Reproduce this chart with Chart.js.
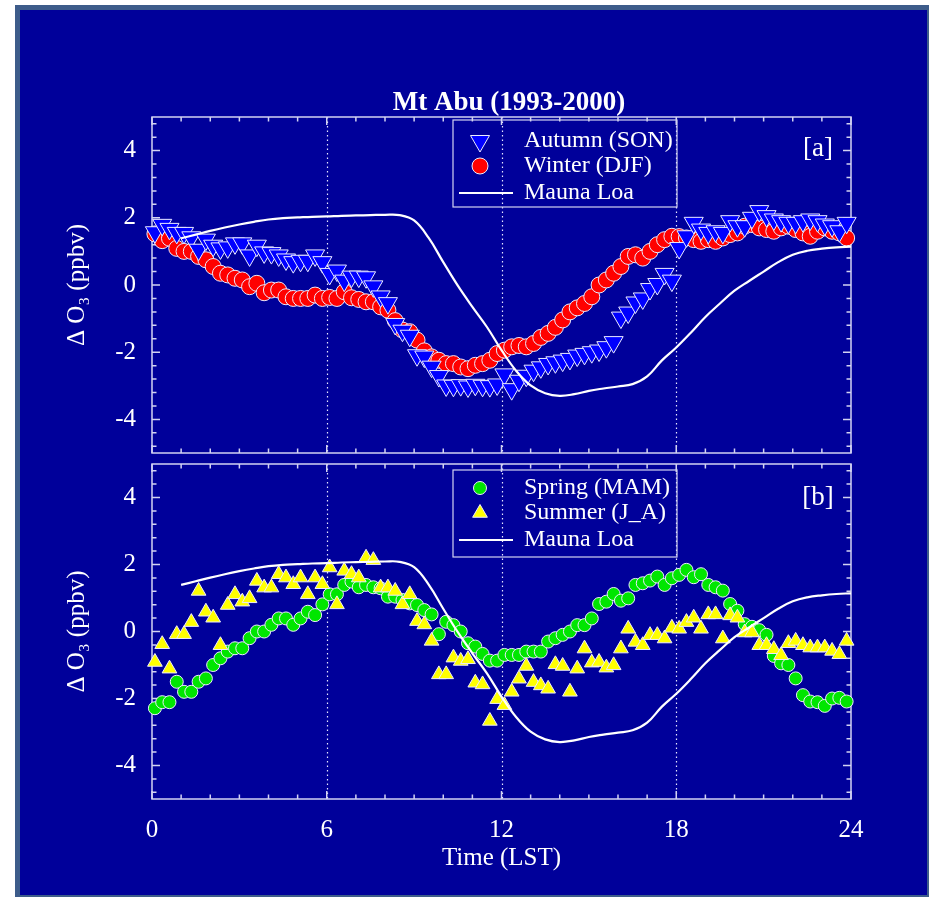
<!DOCTYPE html>
<html>
<head>
<meta charset="utf-8">
<script src="https://cdn.jsdelivr.net/npm/chart.js@4.4.0/dist/chart.umd.min.js"></script>
<style>
  html, body { margin: 0; padding: 0; width: 929px; height: 897px; overflow: hidden; background: #ffffff; }
  #frame { position: absolute; left: 15px; top: 5px; width: 907px; height: 885px;
           background: #00009a; border: 5px solid #3d5c8a; }
  canvas { position: absolute; left: 0; top: 0; }
</style>
</head>
<body>
<div id="frame"></div>
<canvas id="panelA" width="929" height="897"></canvas>
<canvas id="panelB" width="929" height="897"></canvas>
<script>
// 15-minute time grid (hours LST)
var hours = [];
for (var k = 0; k < 96; k++) hours.push(+(0.1 + 0.25 * k).toFixed(2));

// Mauna Loa reference curve, half-hourly from 01 LST
var mlHours = [];
for (var m = 0; m < 47; m++) mlHours.push(1 + 0.5 * m);

var autumn = [
  1.57, 1.79, 1.67, 1.55, 1.55, 1.42, 1.05, 1.35, 1.17, 1.09, 1.12, 1.24,
  1.24, 0.88, 1.17, 0.97, 0.95, 0.88, 0.76, 0.68, 0.72, 0.72, 0.88, 0.68,
  0.33, 0.43, 0.13, 0.25, 0.25, 0.23, -0.04, -0.34, -0.54, -1.16, -1.36, -1.51,
  -2.09, -2.13, -2.43, -2.71, -2.99, -3.0, -2.98, -3.02, -2.97, -3.0, -3.01, -2.96,
  -2.66, -3.1, -2.85, -2.7, -2.55, -2.45, -2.35, -2.3, -2.25, -2.2, -2.1, -2.05,
  -2.0, -1.95, -1.85, -1.7, -0.97, -0.82, -0.52, -0.4, -0.12, 0.03, 0.33, 0.13,
  1.1, 1.45, 1.85, 1.65, 1.55, 1.6, 1.55, 1.9, 1.75, 1.75, 2.0, 2.2,
  2.05, 1.95, 1.9, 1.85, 1.85, 1.9, 1.95, 1.9, 1.8, 1.75, 1.6, 1.85
];
var winter = [
  1.52, 1.32, 1.39, 1.09, 1.0, 1.0, 0.85, 0.75, 0.55, 0.35, 0.30, 0.20,
  0.15, -0.05, 0.05, -0.23, -0.15, -0.15, -0.35, -0.40, -0.40, -0.40, -0.30, -0.40,
  -0.37, -0.40, -0.20, -0.38, -0.43, -0.50, -0.50, -0.65, -0.75, -1.06, -1.34, -1.39,
  -1.64, -1.96, -2.14, -2.24, -2.34, -2.34, -2.44, -2.49, -2.39, -2.34, -2.24, -2.04,
  -1.94, -1.84, -1.80, -1.84, -1.74, -1.56, -1.44, -1.26, -1.04, -0.80, -0.68, -0.55,
  -0.35, 0.0, 0.15, 0.35, 0.55, 0.85, 0.90, 0.80, 1.0, 1.2, 1.35, 1.45,
  1.44, 1.40, 1.35, 1.30, 1.35, 1.30, 1.40, 1.50, 1.55, 1.75, 1.80, 1.70,
  1.65, 1.60, 1.70, 1.75, 1.65, 1.55, 1.45, 1.60, 1.70, 1.60, 1.55, 1.40
];
var spring = [
  -2.29, -2.11, -2.11, -1.5, -1.8, -1.8, -1.5, -1.4, -1.0, -0.8, -0.6, -0.5,
  -0.5, -0.2, 0.0, 0.0, 0.2, 0.39, 0.39, 0.2, 0.39, 0.59, 0.49, 0.81,
  1.11, 1.11, 1.39, 1.49, 1.32, 1.39, 1.32, 1.29, 1.04, 1.04, 0.94, 0.84,
  0.79, 0.64, 0.51, -0.08, 0.29, 0.19, 0.0, -0.35, -0.45, -0.67, -0.87, -0.87,
  -0.7, -0.7, -0.7, -0.6, -0.6, -0.6, -0.3, -0.2, -0.1, 0.0, 0.19, 0.19,
  0.39, 0.82, 0.89, 1.12, 0.92, 0.99, 1.39, 1.44, 1.52, 1.64, 1.39, 1.59,
  1.69, 1.84, 1.62, 1.71, 1.39, 1.32, 1.22, 0.82, 0.62, 0.22, 0.14, 0.04,
  -0.1, -0.73, -0.95, -1.0, -1.4, -1.9, -2.09, -2.11, -2.22, -2.0, -1.98, -2.09
];
var summer = [
  -0.91, -0.38, -1.11, -0.08, -0.08, 0.28, 1.21, 0.59, 0.41, -0.41, 0.79, 1.11,
  0.89, 0.99, 1.51, 1.31, 1.31, 1.71, 1.61, 1.41, 1.61, 1.11, 1.61, 1.41,
  1.91, 0.81, 1.81, 1.71, 1.61, 2.2, 2.13, 1.31, 1.31, 1.21, 0.81, 1.11,
  0.31, 0.21, -0.28, -1.28, -1.28, -0.78, -0.88, -0.83, -1.53, -1.58, -2.67, -2.02,
  -2.2, -1.8, -1.41, -1.03, -1.51, -1.61, -1.71, -0.98, -1.03, -1.8, -1.11, -0.51,
  -0.93, -0.91, -1.08, -1.01, -0.51, 0.08, -0.31, -0.41, -0.11, -0.11, -0.21, 0.11,
  0.08, 0.28, 0.41, 0.08, 0.51, 0.51, -0.21, 0.48, 0.41, -0.03, -0.03, -0.41,
  -0.41, -0.53, -0.71, -0.35, -0.28, -0.41, -0.48, -0.48, -0.48, -0.58, -0.68, -0.28
];
var maunaLoa = [
  1.39, 1.50, 1.61, 1.71, 1.80, 1.88, 1.95, 1.99, 2.01, 2.03, 2.04, 2.06,
  2.07, 2.08, 2.09, 2.08, 1.92, 1.40, 0.68, -0.02, -0.65, -1.25, -1.94, -2.55,
  -2.99, -3.22, -3.30, -3.25, -3.15, -3.08, -3.02, -2.95, -2.72, -2.25, -1.86, -1.42,
  -0.95, -0.55, -0.17, 0.12, 0.40, 0.68, 0.90, 1.02, 1.08, 1.12, 1.14
];

var xTicks = [0, 6, 12, 18, 24];
var yTicks = [-4, -2, 0, 2, 4];
var gridHours = [6, 12, 18];

var SERIF = "'Liberation Serif', 'Times New Roman', serif";
var AXIS = '#d2d2f2';
var MARK_EDGE = '#ececff';

function pts(xs, ys) {
    return ys.map(function(v, i) { return {x: xs[i], y: v}; });
}

// frame, inward ticks, dotted verticals, legend box, title & panel tag
var panelDecor = {
    id: 'panelDecor',
    beforeDatasetsDraw: function(chart, args, opts) {
        var ctx = chart.ctx, a = chart.chartArea;
        var x = chart.scales.x, y = chart.scales.y;
        ctx.save();
        ctx.strokeStyle = '#e6e6ff';
        ctx.lineWidth = 1.2;
        ctx.setLineDash([1.5, 3]);
        gridHours.forEach(function(h) {
            var px = Math.round(x.getPixelForValue(h)) + 0.5;
            ctx.beginPath(); ctx.moveTo(px, a.top); ctx.lineTo(px, a.bottom); ctx.stroke();
        });
        ctx.setLineDash([]);
        ctx.strokeStyle = AXIS;
        ctx.lineWidth = 1.5;
        ctx.strokeRect(a.left, a.top, a.width, a.height);
        ctx.beginPath();
        for (var h = 0; h <= 24; h++) {
            var px = x.getPixelForValue(h), len = (h % 6 === 0) ? 8 : 4.5;
            ctx.moveTo(px, a.bottom); ctx.lineTo(px, a.bottom - len);
            ctx.moveTo(px, a.top); ctx.lineTo(px, a.top + len);
        }
        for (var i = -12; i <= 12; i++) {
            var py = y.getPixelForValue(i * 0.4), ln = (i % 5 === 0) ? 8 : 4.5;
            ctx.moveTo(a.left, py); ctx.lineTo(a.left + ln, py);
            ctx.moveTo(a.right, py); ctx.lineTo(a.right - ln, py);
        }
        ctx.stroke();
        ctx.restore();
    },
    afterDatasetsDraw: function(chart, args, opts) {
        var ctx = chart.ctx, b = opts.box;
        ctx.save();
        ctx.strokeStyle = AXIS;
        ctx.lineWidth = 1.2;
        ctx.strokeRect(b[0], b[1], b[2] - b[0], b[3] - b[1]);
        ctx.font = '24px ' + SERIF;
        ctx.textBaseline = 'middle';
        ctx.textAlign = 'left';
        opts.rows.forEach(function(r) {
            var ds = chart.data.datasets[r.ds];
            if (r.line) {
                ctx.strokeStyle = ds.borderColor;
                ctx.lineWidth = ds.borderWidth;
                ctx.beginPath(); ctx.moveTo(459, r.y); ctx.lineTo(513, r.y); ctx.stroke();
            } else {
                ctx.fillStyle = ds.backgroundColor;
                ctx.strokeStyle = ds.borderColor;
                ctx.lineWidth = ds.borderWidth;
                Chart.helpers.drawPoint(ctx, {
                    pointStyle: ds.pointStyle, rotation: ds.rotation || 0,
                    radius: ds.pointRadius, borderWidth: ds.borderWidth
                }, 480, r.y);
            }
            ctx.fillStyle = '#ffffff';
            ctx.fillText(r.label, 524, r.y);
        });
        ctx.font = '27px ' + SERIF;
        ctx.textAlign = 'center';
        ctx.fillText(opts.tag, 818, opts.tagY);
        if (opts.title) {
            ctx.font = 'bold 27px ' + SERIF;
            ctx.fillText(opts.title, 509, 103);
        }
        ctx.restore();
    }
};

function yAxis() {
    return {
        min: -5, max: 5,
        afterBuildTicks: function(s) { s.ticks = yTicks.map(function(v) { return {value: v}; }); },
        afterFit: function(s) { s.width = 152; },
        border: {display: false},
        grid: {display: false, drawTicks: false},
        ticks: {color: '#ffffff', font: {family: SERIF, size: 25}, padding: 16},
        title: {display: true, text: 'Δ O₃ (ppbv)', color: '#ffffff',
                font: {family: SERIF, size: 25}, padding: {top: 62, bottom: 0}}
    };
}

function mlDataset() {
    return {
        label: 'Mauna Loa', data: pts(mlHours, maunaLoa), showLine: true,
        borderColor: '#ffffff', backgroundColor: '#ffffff', borderWidth: 2.2,
        pointRadius: 0, tension: 0.4, clip: false
    };
}

function markerSet(label, ys, style, rot, radius, fill) {
    return {
        label: label, data: pts(hours, ys), showLine: false,
        pointStyle: style, rotation: rot, pointRadius: radius,
        backgroundColor: fill, borderColor: MARK_EDGE, borderWidth: 1, clip: false
    };
}

Chart.defaults.font.family = SERIF;

new Chart(document.getElementById('panelA'), {
    type: 'scatter',
    data: {
        datasets: [
            mlDataset(),
            markerSet('Autumn (SON)', autumn, 'triangle', 180, 11, '#0000ff'),
            markerSet('Winter (DJF)', winter, 'circle', 0, 8, '#ff0000')
        ]
    },
    options: {
        responsive: false, animation: false, events: [], devicePixelRatio: 1,
        layout: {padding: {left: 0, right: 78, top: 117, bottom: 444}},
        scales: {
            x: {type: 'linear', min: 0, max: 24, display: false},
            y: yAxis()
        },
        plugins: {
            legend: {display: false}, tooltip: {enabled: false},
            panelDecor: {
                box: [453, 120, 677, 207],
                rows: [
                    {ds: 1, label: 'Autumn (SON)', y: 141},
                    {ds: 2, label: 'Winter (DJF)', y: 166},
                    {ds: 0, label: 'Mauna Loa', y: 193, line: true}
                ],
                tag: '[a]', tagY: 149, title: 'Mt Abu (1993-2000)'
            }
        }
    },
    plugins: [panelDecor]
});

new Chart(document.getElementById('panelB'), {
    type: 'scatter',
    data: {
        datasets: [
            mlDataset(),
            markerSet('Summer (J_A)', summer, 'triangle', 0, 8.5, '#ffff00'),
            markerSet('Spring (MAM)', spring, 'circle', 0, 6.5, '#00e600')
        ]
    },
    options: {
        responsive: false, animation: false, events: [], devicePixelRatio: 1,
        layout: {padding: {left: 0, right: 78, top: 464, bottom: 0}},
        scales: {
            x: {
                type: 'linear', min: 0, max: 24,
                afterBuildTicks: function(s) { s.ticks = xTicks.map(function(v) { return {value: v}; }); },
                afterFit: function(s) { s.height = 98; },
                border: {display: false},
                grid: {display: false, drawTicks: false},
                ticks: {color: '#ffffff', font: {family: SERIF, size: 25}, padding: 16,
                        maxRotation: 0, autoSkip: false},
                title: {display: true, text: 'Time (LST)', color: '#ffffff',
                        font: {family: SERIF, size: 25}, padding: {top: 0, bottom: 24}}
            },
            y: yAxis()
        },
        plugins: {
            legend: {display: false}, tooltip: {enabled: false},
            panelDecor: {
                box: [453, 470, 677, 557],
                rows: [
                    {ds: 2, label: 'Spring (MAM)', y: 488},
                    {ds: 1, label: 'Summer (J_A)', y: 513},
                    {ds: 0, label: 'Mauna Loa', y: 540, line: true}
                ],
                tag: '[b]', tagY: 498
            }
        }
    },
    plugins: [panelDecor]
});
</script>
</body>
</html>
